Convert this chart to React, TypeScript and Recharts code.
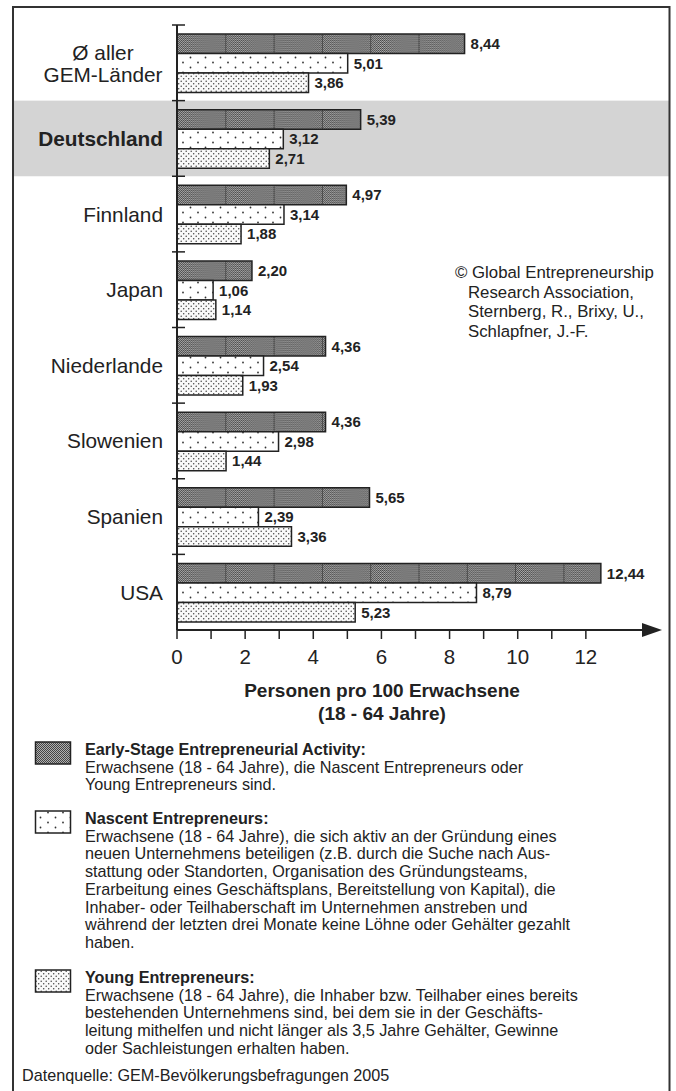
import { BarChart, Bar, XAxis, YAxis, LabelList } from "recharts";

const categories = [
  "Ø aller GEM-Länder",
  "Deutschland",
  "Finnland",
  "Japan",
  "Niederlande",
  "Slowenien",
  "Spanien",
  "USA",
];
const earlyStage = [8.44, 5.39, 4.97, 2.2, 4.36, 4.36, 5.65, 12.44];
const nascent = [5.01, 3.12, 3.14, 1.06, 2.54, 2.98, 2.39, 8.79];
const young = [3.86, 2.71, 1.88, 1.14, 1.93, 1.44, 3.36, 5.23];
const xTicks = [0, 1, 2, 3, 4, 5, 6, 7, 8, 9, 10, 11, 12];

const axisTitle = ["Personen pro 100 Erwachsene", "(18 - 64 Jahre)"];
const copyright = [
  "© Global Entrepreneurship",
  "Research Association,",
  "Sternberg, R., Brixy, U.,",
  "Schlapfner, J.-F.",
];
const legendItems = [
  {
    key: "early",
    title: "Early-Stage Entrepreneurial Activity:",
    lines: [
      "Erwachsene (18 - 64 Jahre), die Nascent Entrepreneurs oder",
      "Young Entrepreneurs sind.",
    ],
  },
  {
    key: "nascent",
    title: "Nascent Entrepreneurs:",
    lines: [
      "Erwachsene (18 - 64 Jahre), die sich aktiv an der Gründung eines",
      "neuen Unternehmens beteiligen (z.B. durch die Suche nach Aus-",
      "stattung oder Standorten, Organisation des Gründungsteams,",
      "Erarbeitung eines Geschäftsplans, Bereitstellung von Kapital), die",
      "Inhaber- oder Teilhaberschaft im Unternehmen anstreben und",
      "während der letzten drei Monate keine Löhne oder Gehälter gezahlt",
      "haben.",
    ],
  },
  {
    key: "young",
    title: "Young Entrepreneurs:",
    lines: [
      "Erwachsene (18 - 64 Jahre), die Inhaber bzw. Teilhaber eines bereits",
      "bestehenden Unternehmens sind, bei dem sie in der Geschäfts-",
      "leitung mithelfen und nicht länger als 3,5 Jahre Gehälter, Gewinne",
      "oder Sachleistungen erhalten haben.",
    ],
  },
];
const source = "Datenquelle: GEM-Bevölkerungsbefragungen 2005";

const data = categories.map((c, i) => ({
  name: c,
  early: earlyStage[i],
  nascent: nascent[i],
  young: young[i],
}));

const W = 676;
const H = 1091;
const FONT = "'Liberation Sans', Arial, sans-serif";
const PLOT_LEFT = 177;
const PLOT_TOP = 25;
const PLOT_BOTTOM = 630;
const X_AXIS_H = 30;
const BAND = (PLOT_BOTTOM - PLOT_TOP) / categories.length;
const INK = "#222";

const fmt = (v: number) => v.toFixed(2).replace(".", ",");

const ValueLabel = (props: any) => {
  const { x, y, width, height, value } = props;
  return (
    <text
      x={x + width + 6}
      y={y + height / 2}
      dy="0.36em"
      fontSize={15}
      fontWeight="bold"
      fontFamily={FONT}
      fill={INK}
    >
      {fmt(value)}
    </text>
  );
};

const CategoryTick = (props: any) => {
  const { y, payload } = props;
  const label: string = payload.value;
  const top = y - BAND / 2;
  let txt;
  if (label.startsWith("Ø")) {
    txt = (
      <g>
        <text x={103} y={y - 3} fontSize={20.8} fontFamily={FONT} fill={INK} textAnchor="middle">
          Ø aller
        </text>
        <text x={103} y={y + 19} fontSize={20.8} fontFamily={FONT} fill={INK} textAnchor="middle">
          GEM-Länder
        </text>
      </g>
    );
  } else {
    txt = (
      <text
        x={163}
        y={y}
        dy="0.36em"
        fontSize={20.8}
        fontWeight={label === "Deutschland" ? "bold" : "normal"}
        fontFamily={FONT}
        fill={INK}
        textAnchor="end"
      >
        {label}
      </text>
    );
  }
  return (
    <g>
      <line x1={PLOT_LEFT - 5} x2={PLOT_LEFT + 8} y1={top} y2={top} stroke={INK} strokeWidth={1.5} />
      {txt}
    </g>
  );
};

const swatchFill: Record<string, string> = {
  early: "url(#pEarlySw)",
  nascent: "url(#pNascent)",
  young: "url(#pYoung)",
};

export default function App() {
  const deIndex = categories.indexOf("Deutschland");
  const lh = 17.7;
  const legendTops = [755, 824, 983];
  return (
    <div style={{ position: "absolute", left: 0, top: 0, width: W, height: H, background: "#fff" }}>
      <svg width={W} height={H} style={{ position: "absolute", left: 0, top: 0 }}>
        <defs>
          <pattern id="pChk" width={2} height={2} patternUnits="userSpaceOnUse">
            <rect width={2} height={2} fill="#b0b0b0" />
            <rect width={1} height={1} fill="#444" />
            <rect x={1} y={1} width={1} height={1} fill="#444" />
          </pattern>
          <pattern id="pEarly" x={PLOT_LEFT} y={0} width={48.3} height={200} patternUnits="userSpaceOnUse">
            <rect width={48.3} height={200} fill="url(#pChk)" />
            <line x1={0} x2={0} y1={0} y2={200} stroke="#2a2a2a" strokeWidth={1.2} />
          </pattern>
          <pattern id="pEarlySw" width={2} height={2} patternUnits="userSpaceOnUse">
            <rect width={2} height={2} fill="#b0b0b0" />
            <rect width={1} height={1} fill="#444" />
            <rect x={1} y={1} width={1} height={1} fill="#444" />
          </pattern>
          <pattern id="pNascent" width={15} height={10} patternUnits="userSpaceOnUse">
            <rect width={15} height={10} fill="#fff" />
            <circle cx={3} cy={2.5} r={0.9} fill="#333" />
            <circle cx={10.5} cy={7.5} r={0.9} fill="#333" />
          </pattern>
          <pattern id="pYoung" width={5} height={5} patternUnits="userSpaceOnUse">
            <rect width={5} height={5} fill="#fafafa" />
            <circle cx={1.2} cy={1.2} r={0.75} fill="#444" />
            <circle cx={3.7} cy={3.7} r={0.75} fill="#444" />
          </pattern>
        </defs>
        <rect
          x={14}
          y={PLOT_TOP + deIndex * BAND}
          width={655}
          height={BAND}
          fill="#d4d4d4"
        />
      </svg>

      <div style={{ position: "absolute", left: 0, top: 0 }}>
        <BarChart
          width={W}
          height={H}
          data={data}
          layout="vertical"
          margin={{ top: PLOT_TOP, right: 22, bottom: H - PLOT_BOTTOM - X_AXIS_H, left: 0 }}
          barCategoryGap={8.6}
          barGap={0}
        >
          <XAxis
            type="number"
            domain={[0, 14]}
            ticks={xTicks}
            tickFormatter={(v: number) => (v % 2 === 0 ? String(v) : "")}
            height={X_AXIS_H}
            axisLine={{ stroke: INK, strokeWidth: 2 }}
            tickLine={{ stroke: INK, strokeWidth: 1.5 }}
            tickSize={9}
            tickMargin={10}
            tick={{ fill: INK, fontSize: 20.5, fontFamily: FONT }}
          />
          <YAxis
            type="category"
            dataKey="name"
            width={PLOT_LEFT}
            axisLine={{ stroke: INK, strokeWidth: 2 }}
            tickLine={false}
            tick={<CategoryTick />}
            interval={0}
          />
          <Bar dataKey="early" barSize={19.5} fill="url(#pEarly)" stroke={INK} strokeWidth={1.5} isAnimationActive={false}>
            <LabelList dataKey="early" content={<ValueLabel />} />
          </Bar>
          <Bar dataKey="nascent" barSize={19.5} fill="url(#pNascent)" stroke={INK} strokeWidth={1.5} isAnimationActive={false}>
            <LabelList dataKey="nascent" content={<ValueLabel />} />
          </Bar>
          <Bar dataKey="young" barSize={19.5} fill="url(#pYoung)" stroke={INK} strokeWidth={1.5} isAnimationActive={false}>
            <LabelList dataKey="young" content={<ValueLabel />} />
          </Bar>
        </BarChart>
      </div>

      <svg
        width={W}
        height={H}
        style={{ position: "absolute", left: 0, top: 0, pointerEvents: "none" }}
        fontFamily={FONT}
        fill={INK}
      >
        <rect x={13} y={7} width={656.5} height={H + 20} fill="none" stroke="#333" strokeWidth={2} />
        <polygon points="642,623 662,630 642,637" fill={INK} />
        <text x={382} y={697} fontSize={19} fontWeight="bold" textAnchor="middle">
          {axisTitle[0]}
        </text>
        <text x={382} y={720} fontSize={19} fontWeight="bold" textAnchor="middle">
          {axisTitle[1]}
        </text>
        {copyright.map((t, i) => (
          <text key={i} x={i === 0 ? 455 : 468} y={278 + i * 19.7} fontSize={16.8}>
            {t}
          </text>
        ))}
        {legendItems.map((it, i) => {
          const base = legendTops[i];
          return (
            <g key={it.key}>
              <rect x={35.5} y={base - 13} width={35} height={22} fill={swatchFill[it.key]} stroke={INK} strokeWidth={1.5} />
              <text x={85} y={base} fontSize={16.2} fontWeight="bold">
                {it.title}
              </text>
              {it.lines.map((l, j) => (
                <text key={j} x={85} y={base + (j + 1) * lh} fontSize={16.2}>
                  {l}
                </text>
              ))}
            </g>
          );
        })}
        <text x={22} y={1081} fontSize={16.2}>
          {source}
        </text>
      </svg>
    </div>
  );
}
